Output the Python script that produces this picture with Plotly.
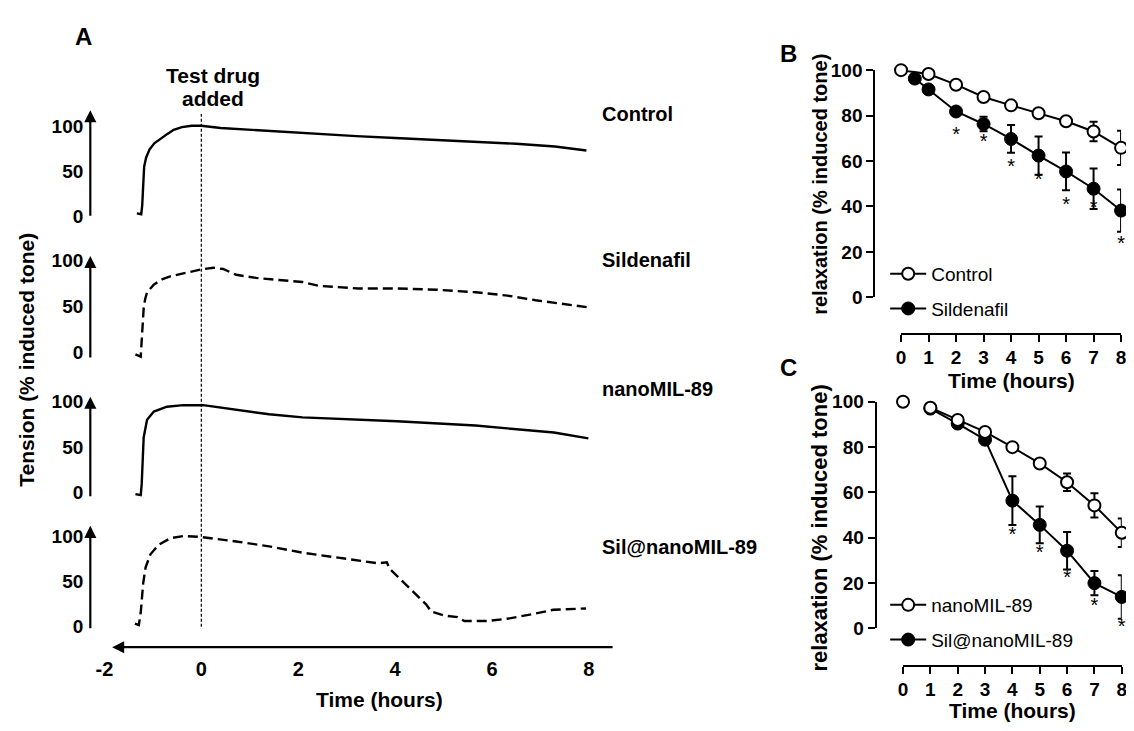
import plotly.graph_objects as go

OFF = 8                       # default page body margin of the html page
W, H = 1134 - OFF, 731 - OFF  # figure size so that it ends at the window edge
FONT = "Liberation Sans, Arial, sans-serif"


def fx(p):
    return (p - OFF) / W


def fy(p):
    return 1 - (p - OFF) / H


# ---------------- Panel A data (time in hours, tension in % induced tone) ----------------
ctrl_t = [-1.33, -1.24, -1.22, -1.20, -1.18, -1.14, -1.07, -0.97, -0.85, -0.70, -0.57, -0.40, -0.20,
          0.0, 0.4, 1.0, 1.5, 2.1, 3.2, 4.0, 5.0, 5.7, 6.5, 7.3, 7.95]
ctrl_v = [3, 2, 12, 35, 55, 65, 74, 81, 86, 91.5, 96, 99, 100.5,
          100.5, 98, 96, 94.5, 92.5, 89, 87, 84.5, 83, 80.5, 77.5, 73]

sil_t = [-1.36, -1.25, -1.23, -1.21, -1.19, -1.16, -1.12, -0.98, -0.80, -0.64, -0.23, 0.0, 0.25, 0.45,
         0.72, 1.13, 1.6, 2.09, 2.43, 3.24, 4.05, 4.86, 5.67, 6.32, 6.9, 7.5, 8.02]
sil_v = [-2, -4.5, 13.5, 30, 48, 58, 65.6, 74, 80, 83, 88, 90.6, 92.4, 91,
         84.7, 81.3, 79, 76.8, 72.6, 69.8, 69.8, 68.4, 65.6, 62, 57, 53, 49]

nano_t = [-1.36, -1.25, -1.23, -1.21, -1.19, -1.12, -0.98, -0.71, -0.37, 0.04, 0.72, 1.4, 2.09, 2.42,
          3.23, 4.04, 5.66, 6.47, 7.28, 7.99]
nano_v = [-1.4, -2.5, 10, 35, 60.6, 80, 89, 94.3, 96, 96, 90.8, 86, 82.6, 81.9,
          79.8, 78.4, 73.7, 70.2, 66, 59.6]

silnano_t = [-1.37, -1.29, -1.25, -1.20, -1.15, -1.05, -0.88, -0.64, -0.37, 0.0, 0.72, 1.4, 2.09, 2.77,
             3.45, 3.66, 3.83, 3.89, 4.13, 4.47, 4.64, 4.75, 5.02, 5.29, 5.43, 5.91, 6.32, 6.86,
             7.27, 7.94]
silnano_v = [3.5, 1.8, 16, 48, 65.6, 79.8, 90.4, 97.5, 100, 98.9, 94, 88.6, 81.6, 76.2,
             71, 69.9, 71, 63.8, 51.4, 33.7, 24.8, 16.7, 12.4, 10.6, 6.4, 6.4, 8.9, 14.2,
             18.8, 20.2]

a_names = ["Control", "Sildenafil", "nanoMIL-89", "Sil@nanoMIL-89"]
a_series = [(ctrl_t, ctrl_v), (sil_t, sil_v), (nano_t, nano_v), (silnano_t, silnano_v)]
a_dashed = [False, True, False, True]
a_ticks = [0, 50, 100]
a_xticks = [-2, 0, 2, 4, 6, 8]
a_xticktext = ["-2", "0", "2", "4", "6", "8"]

# ---------------- Panel B data ----------------
b_ctrl_t = [0, 1, 2, 3, 4, 5, 6, 7, 8]
b_ctrl_v = [100, 98.3, 93.6, 88.2, 84.5, 81, 77.5, 73, 65.8]
b_ctrl_e = [0.5, 0.5, 1, 1, 1, 1.2, 1.5, 4.3, 7.5]
b_sil_t = [0.5, 1, 2, 3, 4, 5, 6, 7, 8]
b_sil_v = [96.3, 91.5, 81.8, 76.3, 69.7, 62.4, 55.4, 47.8, 38.2]
b_sil_e = [0.5, 1, 2, 3.2, 6.1, 8.4, 8.3, 8.9, 9.3]
b_star_t = [2, 3, 4, 5, 6, 7, 8]
b_star_y = [70.8, 68, 57, 51, 40, 38.8, 23]

# ---------------- Panel C data ----------------
c_nano0_t = [0]
c_nano0_v = [100]
c_nano_t = [1, 2, 3, 4, 5, 6, 7, 8]
c_nano_v = [97.4, 92, 86.7, 80, 72.8, 64.5, 54.3, 42.2]
c_nano_e = [0.5, 1, 1, 1.5, 2, 3.9, 5.4, 6.3]
c_sn_t = [1, 2, 3, 4, 5, 6, 7, 8]
c_sn_v = [97, 90.4, 83.3, 56.4, 45.7, 34.3, 20, 13.9]
c_sn_e = [0.5, 1.5, 2, 10.8, 8.1, 8.3, 5.4, 9.6]
c_star_t = [4, 5, 6, 7, 8]
c_star_y = [40.7, 32.8, 21.6, 9.3, 0.3]

# ---------------- layout geometry (screen pixels) ----------------
AX0, APX = 198.0, 48.875          # t=0 pixel, pixels per hour in panel A
AX_L, AX_R, AX_Y = 108, 610, 656  # bottom arrow axis
DOM_L = 95                        # left edge of panel A x domain
# per row: (y of 0, y of 100, arrow tip, axis bottom, label y)
rows = [(212, 119.5, 103, 210, 107),
        (352.5, 258, 253, 356, 257),
        (497, 403, 398, 499, 390),
        (635, 541.5, 531, 635, 553)]
Y_AX_X = 86

fig = go.Figure()
layout = dict(width=W, height=H, margin=dict(l=0, r=0, t=0, b=0),
              paper_bgcolor="white", plot_bgcolor="rgba(0,0,0,0)",
              font=dict(family=FONT, color="black"), showlegend=True)

t_lo = (DOM_L - AX0) / APX
t_hi = (AX_R - AX0) / APX
layout["xaxis"] = dict(domain=[fx(DOM_L), fx(AX_R)], range=[t_lo, t_hi], anchor="free",
                       position=fy(AX_Y), showline=False, showgrid=False, zeroline=False,
                       tickvals=a_xticks, ticktext=a_xticktext, ticks="", ticklabelstandoff=8,
                       tickfont=dict(size=20, family=FONT, weight="bold"))

annotations = []
shapes = []
for i, (name, (tt, vv), dashed, r) in enumerate(zip(a_names, a_series, a_dashed, rows)):
    y0, y100, tip, bot, ly = r
    s = (y0 - y100) / 100.0
    d_top, d_bot = y100 - 22, y0 + 8
    yid = "yaxis" if i == 0 else f"yaxis{i+1}"
    layout[yid] = dict(domain=[fy(d_bot), fy(d_top)],
                       range=[(y0 - d_bot) / s, (y0 - d_top) / s],
                       anchor="free", position=fx(Y_AX_X), showline=False, showgrid=False,
                       zeroline=False, tickvals=a_ticks, ticks="", ticklabelstandoff=7,
                       tickfont=dict(size=19, family=FONT, weight="bold"))
    fig.add_trace(go.Scatter(x=tt, y=vv, mode="lines", xaxis="x",
                             yaxis="y" if i == 0 else f"y{i+1}",
                             line=dict(color="black", width=2.4,
                                       dash="10px,5px" if dashed else "solid"),
                             showlegend=False, hoverinfo="skip"))
    annotations.append(dict(xref="paper", yref="paper", x=fx(Y_AX_X), y=fy(tip),
                            ax=0, ay=bot - tip, axref="pixel", ayref="pixel",
                            text="", showarrow=True, arrowhead=2, arrowsize=1.1,
                            arrowwidth=2.2, arrowcolor="black"))
    annotations.append(dict(xref="paper", yref="paper", x=fx(600), y=fy(ly), xanchor="left",
                            yanchor="middle", text=f"<b>{name}</b>", showarrow=False,
                            font=dict(size=20, family=FONT)))

# bottom arrow axis of panel A
annotations.append(dict(xref="paper", yref="paper", x=fx(AX_L), y=fy(AX_Y), ax=AX_R - AX_L, ay=0,
                        axref="pixel", ayref="pixel", text="", showarrow=True, arrowhead=2,
                        arrowsize=1.1, arrowwidth=2.2, arrowcolor="black"))
# test drug line at t = 0
shapes.append(dict(type="line", xref="x", yref="paper", x0=0, x1=0, y0=fy(635), y1=fy(107),
                   line=dict(color="black", width=1.2, dash="3px,2px")))


# ---------------- Panel B / C axes ----------------
def xy_axes(xid, yid, xl, xr, xline_y, ytop, ybot, yline_x):
    layout[xid] = dict(domain=[fx(xl), fx(xr)], range=[0, 8], anchor="free", position=fy(xline_y),
                       showline=True, linecolor="black", linewidth=2, showgrid=False, zeroline=False,
                       ticks="outside", ticklen=7, tickwidth=2, tickcolor="black", dtick=1,
                       tickfont=dict(size=19, family=FONT, weight="bold"))
    layout[yid] = dict(domain=[fy(ybot), fy(ytop)], range=[0, 100], anchor="free", position=fx(yline_x),
                       showline=True, linecolor="black", linewidth=2, showgrid=False, zeroline=False,
                       ticks="outside", ticklen=7, tickwidth=2, tickcolor="black", dtick=20,
                       tickfont=dict(size=19, family=FONT, weight="bold"))


xy_axes("xaxis5", "yaxis5", 904, 1126, 333, 61.7, 295.7, 877)
xy_axes("xaxis6", "yaxis6", 906, 1126.7, 675, 403.3, 636.7, 878.3)

open_m = dict(symbol="circle", size=12, color="white", line=dict(color="black", width=2))
fill_m = dict(symbol="circle", size=13, color="black", line=dict(color="black", width=1))


def err(e):
    return dict(type="data", array=e, visible=True, color="black", thickness=2, width=4)


# B
fig.add_trace(go.Scatter(x=b_sil_t, y=b_sil_v, error_y=err(b_sil_e), mode="lines+markers",
                         name="Sildenafil", marker=fill_m, line=dict(color="black", width=2),
                         xaxis="x5", yaxis="y5", legend="legend", legendrank=2, legendgroup="b2",
                         cliponaxis=False))
fig.add_trace(go.Scatter(x=b_ctrl_t, y=b_ctrl_v, error_y=err(b_ctrl_e), mode="lines+markers",
                         name="Control", marker=open_m, line=dict(color="black", width=2),
                         xaxis="x5", yaxis="y5", legend="legend", legendrank=1, legendgroup="b1",
                         cliponaxis=False))
fig.add_trace(go.Scatter(x=b_star_t, y=b_star_y, mode="text", text=["*"] * len(b_star_t),
                         textfont=dict(size=20, family=FONT), xaxis="x5", yaxis="y5",
                         showlegend=False, cliponaxis=False, hoverinfo="skip"))
# C
fig.add_trace(go.Scatter(x=c_sn_t, y=c_sn_v, error_y=err(c_sn_e), mode="lines+markers",
                         name="Sil@nanoMIL-89", marker=fill_m, line=dict(color="black", width=2),
                         xaxis="x6", yaxis="y6", legend="legend2", legendrank=2, legendgroup="c2",
                         cliponaxis=False))
fig.add_trace(go.Scatter(x=c_nano_t, y=c_nano_v, error_y=err(c_nano_e), mode="lines+markers",
                         name="nanoMIL-89", marker=open_m, line=dict(color="black", width=2),
                         xaxis="x6", yaxis="y6", legend="legend2", legendrank=1, legendgroup="c1",
                         cliponaxis=False))
fig.add_trace(go.Scatter(x=c_nano0_t, y=c_nano0_v, mode="markers", marker=open_m,
                         xaxis="x6", yaxis="y6", showlegend=False, cliponaxis=False))
fig.add_trace(go.Scatter(x=c_star_t, y=c_star_y, mode="text", text=["*"] * len(c_star_t),
                         textfont=dict(size=20, family=FONT), xaxis="x6", yaxis="y6",
                         showlegend=False, cliponaxis=False, hoverinfo="skip"))

leg_common = dict(xanchor="left", yanchor="top", bgcolor="rgba(0,0,0,0)",
                  font=dict(size=19, family=FONT), itemwidth=36, tracegroupgap=7,
                  traceorder="grouped", itemclick=False)
layout["legend"] = dict(x=fx(888), y=fy(252), **leg_common)
layout["legend2"] = dict(x=fx(888), y=fy(593), **leg_common)


# titles and panel letters
def txt(x, y, s, size, angle=0, bold=True):
    annotations.append(dict(xref="paper", yref="paper", x=fx(x), y=fy(y),
                            text=f"<b>{s}</b>" if bold else s,
                            showarrow=False, textangle=angle, xanchor="center", yanchor="middle",
                            font=dict(size=size, family=FONT)))


txt(79, 27, "A", 24)
txt(790, 45, "B", 24)
txt(790, 368, "C", 24)
txt(210, 67, "Test drug", 21)
txt(210, 91, "added", 21)
txt(378, 710, "Time (hours)", 21)
txt(22, 360, "Tension (% induced tone)", 21, -90)
txt(1015, 381, "Time (hours)", 21)
txt(1016, 721, "Time (hours)", 21)
txt(822, 179, "relaxation (% induced tone)", 20, -90)
txt(822, 533, "relaxation (% induced tone)", 22, -90)

layout["annotations"] = annotations
layout["shapes"] = shapes
fig.update_layout(**layout)
fig.write_html("out.html", config={"displayModeBar": False})
